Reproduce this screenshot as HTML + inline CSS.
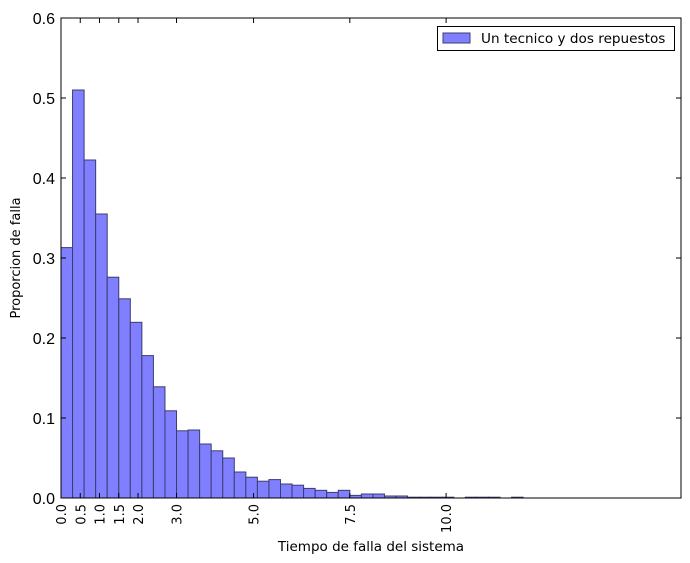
<!DOCTYPE html>
<html><head><meta charset="utf-8"><style>
body{margin:0;background:#fff;}
svg{display:block;font-family:"Liberation Sans","DejaVu Sans",sans-serif;}
.dv{font-family:"DejaVu Sans","Liberation Sans",sans-serif;}
</style></head><body>
<svg id="chart" width="690" height="563" viewBox="0 0 690 563" xmlns="http://www.w3.org/2000/svg">
<rect x="0" y="0" width="690" height="563" fill="#fff"/>
<g id="bars"></g>
<g id="axes"></g>
<text class="dv" x="371" y="551" font-size="13.5" text-anchor="middle">Tiempo de falla del sistema</text>
<text class="dv" transform="translate(20,258) rotate(-90)" font-size="13" text-anchor="middle">Proporcion de falla</text>
<g>
<rect x="437.5" y="26.5" width="237" height="24" fill="#fff" stroke="#000"/>
<rect x="443" y="33" width="27" height="10" fill="#7f7fff" stroke="#3c3c6e"/>
<text class="dv" x="481" y="43" font-size="13.6">Un tecnico y dos repuestos</text>
</g>
</svg>
<script>
const binStart = 0;
const binWidth = 0.3;
const values = [0.313,0.51,0.4225,0.355,0.276,0.249,0.2196,0.178,0.139,0.109,0.084,0.085,0.0675,0.059,0.05,0.0325,0.026,0.021,0.023,0.0175,0.016,0.012,0.0096,0.007,0.0096,0.0033,0.005,0.005,0.0025,0.0025,0.001,0.001,0.001,0.001,0,0.001,0.001,0.001,0,0.001];
const xTicks = [0.0,0.5,1.0,1.5,2.0,3.0,5.0,7.5,10.0];
const xTickLabels = ["0.0","0.5","1.0","1.5","2.0","3.0","5.0","7.5","10.0"];
const yTicks = [0,0.1,0.2,0.3,0.4,0.5,0.6];
const yTickLabels = ["0.0","0.1","0.2","0.3","0.4","0.5","0.6"];

const L=61,R=681,T=18,B=498,XMAX=16.1,YMAX=0.6;
const xs=v=>L+v/XMAX*(R-L);
const ys=v=>B-v/YMAX*(B-T);
const NS="http://www.w3.org/2000/svg";
function mk(tag,attrs,parent){const e=document.createElementNS(NS,tag);for(const k in attrs)e.setAttribute(k,attrs[k]);parent.appendChild(e);return e;}
const gb=document.getElementById('bars');
values.forEach((v,i)=>{
  if(v<=0)return;
  const x0=xs(binStart+i*binWidth),x1=xs(binStart+(i+1)*binWidth);
  const r=mk('rect',{x:x0,y:ys(v),width:x1-x0,height:ys(0)-ys(v),fill:'#7f7fff',stroke:'#3c3c6e','stroke-width':1},gb);
  
  
});
const ga=document.getElementById('axes');
const frame=mk('rect',{x:L,y:T,width:R-L,height:B-T,fill:'none',stroke:'#000','stroke-width':1},ga);


yTicks.forEach((v,i)=>{
  const y=ys(v);
  mk('line',{x1:L,x2:L+5,y1:y,y2:y,stroke:'#000'},ga);
  mk('line',{x1:R,x2:R-5,y1:y,y2:y,stroke:'#000'},ga);
  const t=mk('text',{x:L-6,y:y+6,'font-size':16,'text-anchor':'end'},ga);
  t.textContent=yTickLabels[i];
  
  
});
xTicks.forEach((v,i)=>{
  const x=xs(v);
  mk('line',{x1:x,x2:x,y1:B,y2:B-5,stroke:'#000'},ga);
  mk('line',{x1:x,x2:x,y1:T,y2:T+5,stroke:'#000'},ga);
  const t=mk('text',{transform:`translate(${x+5},${B+6}) rotate(-90)`,'font-size':13,'text-anchor':'end',class:'dv'},ga);
  t.textContent=xTickLabels[i];
  
  
});
</script>
</body></html>
